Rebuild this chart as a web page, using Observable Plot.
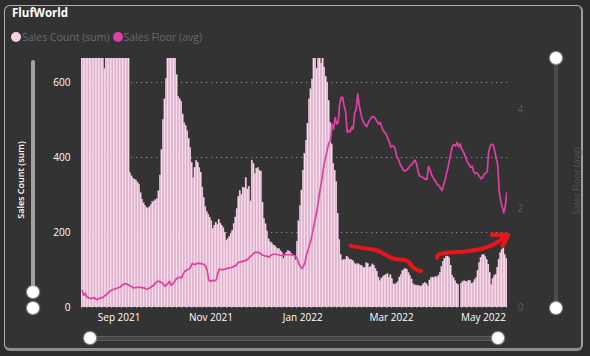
<!DOCTYPE html>
<html><head><meta charset="utf-8">
<script src="https://cdn.jsdelivr.net/npm/d3@7"></script>
<script src="https://cdn.jsdelivr.net/npm/@observablehq/plot@0.6"></script>
<style>
html,body{margin:0;padding:0;background:#2c2c2c;width:590px;height:356px;overflow:hidden;font-family:"Open Sans",sans-serif;}
#card{position:absolute;left:4px;top:5px;width:579px;height:346px;background:#333333;border:1px solid #b0b0b0;border-bottom:3px solid #8e8e8e;border-right:2px solid #a0a0a0;border-radius:6px;box-sizing:border-box;}
#title{position:absolute;left:12px;top:5px;color:#fff;font-weight:700;font-size:11.5px;}
#legend{position:absolute;left:11px;top:30px;font-size:10.5px;color:#6a6a6a;display:flex;align-items:center;white-space:nowrap;}
#legend .dot{display:inline-block;width:10px;height:10px;border-radius:50%;margin-right:1px;}
#chart{position:absolute;left:0;top:0;}
.track{position:absolute;border-radius:2px;}
.knob{position:absolute;width:12px;height:12px;border-radius:50%;background:#fff;box-shadow:0 0 1px 1px #9a9a9a;}
.ytitle{position:absolute;transform:translate(-50%,-50%) rotate(-90deg);white-space:nowrap;font-size:9px;}
</style></head><body>
<div id="card"></div>
<div id="title">FlufWorld</div>
<div id="legend"><span class="dot" style="background:#f7d0e6"></span><span id="l1">Sales Count (sum)</span><span class="dot" style="background:#e13fa6;margin-left:3px"></span><span id="l2">Sales Floor (avg)</span></div>
<div class="ytitle" style="left:20px;top:180px;color:#fff;font-weight:600">Sales Count (sum)</div>
<div class="ytitle" style="left:576px;top:181px;color:#565656">Sales Floor (avg)</div>
<div class="track" style="left:31px;top:60px;width:4px;height:232px;background:#a2a2a2"></div>
<div class="knob" style="left:27px;top:286px"></div>
<div class="knob" style="left:27px;top:302px"></div>
<div class="track" style="left:554px;top:58px;width:4px;height:250px;background:#4b4b4b"></div>
<div class="knob" style="left:550px;top:52px"></div>
<div class="knob" style="left:550px;top:302px"></div>
<div class="track" style="left:90px;top:336px;width:408px;height:3px;background:#474747;border:1px solid #5c5c5c"></div>
<div class="knob" style="left:84px;top:332px"></div>
<div class="knob" style="left:492px;top:332px"></div>
<div id="chart"></div>
<script>
const startDate = "2021-08-07";
const endDate = "2022-05-17";
const salesCount = [
760,790,820,800,780,750,730,770,810,840,860,830,800,760,700,636,690,740,780,820,850,870,840,810,790,770,740,720,700,690,680,675,
358,350,344,341,339,333,327,305,288,278,
271,266,263,268,274,281,283,286,289,310,
352,420,500,555,610,680,720,760,740,700,
670,620,562,556,549,515,492,484,470,450,
425,385,345,372,391,386,372,360,320,292,
268,254,247,240,230,210,218,226,220,234,
224,218,212,200,178,182,188,197,205,222,
240,262,295,310,300,320,318,345,315,322,
283,392,383,356,370,372,365,362,280,236,
222,203,182,175,172,166,165,160,156,156,
150,145,130,138,146,151,149,144,140,138,
126,175,230,270,312,365,410,445,490,555,
582,608,680,700,637,700,720,650,690,640,
615,600,550,492,435,383,365,335,250,180,
140,125,127,127,136,132,126,127,124,118,
114,116,115,112,110,106,106,118,116,106,
108,115,112,103,96,80,70,77,81,85,
86,89,80,86,76,62,60,64,68,80,
86,97,101,103,100,92,84,75,62,59,
59,58,57,56,58,63,66,62,56,72,
78,80,78,82,80,85,92,108,122,130,
135,136,132,112,85,78,70,63,60,0,
63,68,70,69,67,72,70,62,65,73,
78,98,118,132,139,140,135,126,114,92,
60,76,84,88,106,128,145,153,158,140,130];
const salesFloor = [
0.34,0.25,0.29,0.21,0.20,0.19,0.18,0.19,0.20,0.17,
0.16,0.18,0.19,0.20,0.21,0.24,0.26,0.29,0.32,0.34,
0.36,0.37,0.38,0.39,0.40,0.41,0.44,0.46,0.48,0.48,
0.47,0.45,0.43,0.42,0.40,0.40,0.41,0.41,0.41,0.41,
0.40,0.40,0.38,0.37,0.38,0.40,0.42,0.44,0.47,0.51,
0.53,0.53,0.52,0.50,0.47,0.43,0.46,0.49,0.53,0.45,
0.47,0.51,0.56,0.59,0.61,0.61,0.60,0.68,0.73,0.75,
0.77,0.78,0.82,0.89,0.88,0.87,0.89,0.90,0.89,0.89,
0.88,0.87,0.84,0.75,0.56,0.53,0.54,0.55,0.54,0.56,
0.68,0.78,0.77,0.77,0.77,0.78,0.79,0.80,0.80,0.81,
0.82,0.84,0.85,0.89,0.92,0.92,0.93,0.94,0.95,0.96,
0.98,1.01,1.04,1.07,1.10,1.12,1.12,1.12,1.10,1.08,
1.06,1.05,1.04,1.04,1.02,1.05,1.07,1.08,1.08,1.08,
1.07,1.06,1.055,1.06,1.075,1.07,1.07,1.07,1.075,1.07,
1.06,1.05,1.03,0.97,0.88,0.83,0.79,0.84,0.92,1.07,
1.16,1.27,1.38,1.53,1.68,1.83,1.98,2.18,2.39,2.55,
2.79,2.95,3.09,3.23,3.35,3.40,3.72,3.62,3.85,3.72,
3.75,4.12,4.26,4.26,4.08,3.97,3.55,3.59,3.56,3.66,
3.62,3.95,4.02,4.33,4.10,3.95,3.82,3.75,3.70,3.67,
3.75,3.80,3.85,3.87,3.86,3.82,3.76,3.72,3.75,3.66,
3.58,3.55,3.50,3.43,3.35,3.25,3.28,3.27,3.20,3.05,
3.01,2.92,2.86,2.80,2.77,2.78,2.80,2.84,2.88,2.90,
2.95,2.99,2.92,2.78,2.67,2.66,2.64,2.62,2.60,2.60,
2.86,2.80,2.70,2.64,2.59,2.54,2.49,2.48,2.42,2.37,
2.48,2.58,2.72,2.84,3.00,3.15,3.28,3.30,3.28,3.35,
3.26,3.32,3.22,3.17,3.10,3.02,2.94,2.90,2.84,2.87,
2.76,2.72,2.73,2.70,2.65,2.61,2.64,2.70,2.73,2.75,
3.15,3.28,3.31,3.30,3.18,3.02,2.90,2.35,2.16,2.04,
1.92,2.05,2.32];
const xTickDates = ["2021-09-01","2021-11-01","2022-01-01","2022-03-01","2022-05-01"];
const leftTicks = [0, 200, 400, 600];
const rightTicks = [0, 2, 4];
const leftMax = 664;
const rightMax = 5.05;
// hand-drawn red annotation strokes: [time, Sales Count units]
const arrowDown = [["2022-02-01T17:00Z",165],["2022-02-06T05:00Z",161],["2022-02-12T19:00Z",157],["2022-02-19T12:00Z",152],["2022-02-23T22:00Z",143],["2022-03-02T12:00Z",130],["2022-03-09T05:00Z",127],["2022-03-12T12:00Z",121],["2022-03-14T17:00Z",109],["2022-03-18T02:00Z",100],["2022-03-20T17:00Z",97]];
const arrowUp = [["2022-03-31T07:00Z",132],["2022-03-31T17:00Z",139],["2022-04-02T12:00Z",143],["2022-04-09T05:00Z",147],["2022-04-18T00:00Z",149],["2022-04-26T22:00Z",154],["2022-05-03T14:00Z",161],["2022-05-10T05:00Z",174],["2022-05-14T14:00Z",187]];
const arrowHead = [["2022-05-06T19:00Z",194],["2022-05-17T10:00Z",193],["2022-05-13T17:00Z",165]];

const K = leftMax / rightMax;
const start = new Date(startDate + "T00:00Z");
const days = d3.utcDay.range(start, d3.utcDay.offset(start, salesCount.length));
const rows = days.map((d, i) => ({date: d, next: d3.utcDay.offset(d, 1), mid: d3.utcHour.offset(d, 12), count: salesCount[i], floor: salesFloor[i]}));
const toPts = a => a.map(([t, v]) => ({t: new Date(t), v}));
const red = "#e8161b";

const chart = Plot.plot({
  width: 590, height: 356,
  marginLeft: 81, marginRight: 83, marginTop: 58, marginBottom: 49,
  style: {background: "transparent", color: "#fff", fontFamily: "'Open Sans', sans-serif", fontSize: "10px"},
  x: {type: "utc", domain: [start, new Date(endDate + "T00:00Z")]},
  y: {domain: [0, leftMax]},
  marks: [
    Plot.ruleY(leftTicks, {stroke: "#8c8c8c", strokeDasharray: "1.3,3.7", strokeWidth: 1}),
    Plot.rectY(rows, {x1: "date", x2: "next", y: "count", fill: "#fadaec", stroke: "#e3b3cf", strokeWidth: 0.3, clip: true}),
    Plot.line(rows, {x: "mid", y: d => d.floor * K, stroke: "#e13fa6", strokeWidth: 1.7, clip: true}),
    Plot.line(toPts(arrowDown), {x: "t", y: "v", stroke: red, strokeWidth: 4, strokeLinecap: "round", strokeLinejoin: "round", curve: "catmull-rom"}),
    Plot.line(toPts(arrowUp), {x: "t", y: "v", stroke: red, strokeWidth: 4, strokeLinecap: "round", strokeLinejoin: "round", curve: "catmull-rom"}),
    Plot.line(toPts(arrowHead), {x: "t", y: "v", stroke: red, strokeWidth: 4.5, strokeLinecap: "round", strokeLinejoin: "round"}),
    Plot.axisY(leftTicks, {anchor: "left", tickSize: 0, tickPadding: 11, fill: "#ffffff", label: null}),
    Plot.axisY(rightTicks.map(d => d * K), {anchor: "right", tickSize: 0, tickPadding: 10, tickFormat: d => String(Math.round(d / K)), fill: "#5c5c5c", label: null}),
    Plot.axisX(xTickDates.map(d => new Date(d + "T00:00Z")), {anchor: "bottom", tickSize: 0, tickPadding: 6, tickFormat: d3.utcFormat("%b %Y"), fill: "#ffffff", label: null})
  ]
});
document.getElementById("chart").appendChild(chart);
</script>
</body></html>
